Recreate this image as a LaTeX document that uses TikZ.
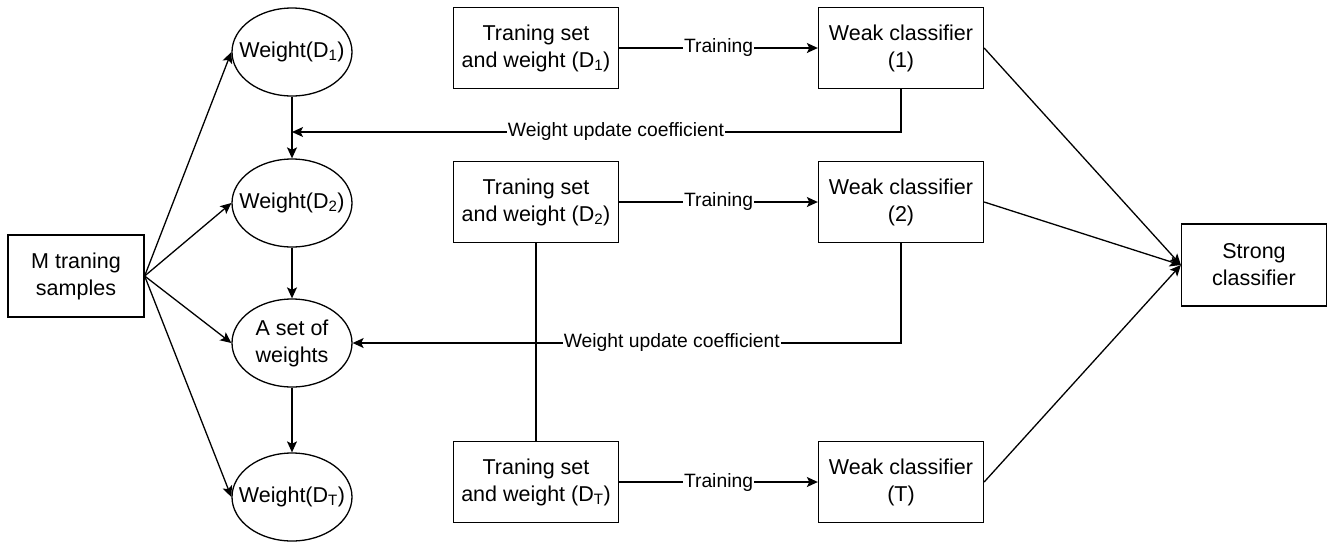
\documentclass[tikz,border=0pt]{standalone}
\usepackage{fontspec}
\setmainfont{Liberation Sans}
\usetikzlibrary{arrows.meta,shapes.geometric}
\begin{document}
\begin{tikzpicture}[x=1pt,y=-1pt,
  every node/.style={font=\fontsize{21.5}{27}\selectfont, align=center, inner sep=0pt},
  every label/.style={font=\fontsize{21.5}{27}\selectfont, align=center, inner sep=0pt},
  boxnode/.style={draw, line width=1.3pt, minimum width=165pt, minimum height=81pt},
  ellnode/.style={draw, ellipse, line width=1.3pt, minimum width=120pt, minimum height=88pt, label={center:#1}},
  conn/.style={line width=1.3pt},
  arr/.style={conn, -{Stealth[length=11pt,width=10pt,inset=2.5pt]}},
  lbl/.style={fill=white, inner sep=1pt, font=\fontsize{19.3}{23}\selectfont}]
\useasboundingbox (0,0) rectangle (1331,542);
% left column
\node[boxnode, minimum width=136pt, minimum height=82pt] (m) at (76,276) {M traning\\samples};
\node[ellnode={Weight(D\textsubscript{1})}] (w1) at (292,52) {};
\node[ellnode={Weight(D\textsubscript{2})}] (w2) at (292,203) {};
\node[ellnode={A set of\\weights}] (ws) at (292,343) {};
\node[ellnode={Weight(D\textsubscript{T})}] (wT) at (292,497) {};
% training sets
\node[boxnode] (ts1) at (536,48) {Traning set\\and weight (D\textsubscript{1})};
\node[boxnode] (ts2) at (536,202) {Traning set\\and weight (D\textsubscript{2})};
\node[boxnode] (tsT) at (536,482) {Traning set\\and weight (D\textsubscript{T})};
% weak classifiers
\node[boxnode] (wc1) at (901,48) {Weak classifier\\(1)};
\node[boxnode] (wc2) at (901,202) {Weak classifier\\(2)};
\node[boxnode] (wcT) at (901,482) {Weak classifier\\(T)};
% strong
\node[boxnode, minimum width=145pt, minimum height=82pt] (sc) at (1254,265) {Strong\\classifier};
\coordinate (u1) at (292,132);
% connectors
\draw[arr] (m.east) -- (w1.west);
\draw[arr] (m.east) -- (w2.west);
\draw[arr] (m.east) -- (ws.west);
\draw[arr] (m.east) -- (wT.west);
\draw[arr] (w1) -- (w2);
\draw[arr] (w2) -- (ws);
\draw[arr] (ws) -- (wT);
\draw[arr] (ts1) -- node[lbl] {Training} (wc1);
\draw[arr] (ts2) -- node[lbl] {Training} (wc2);
\draw[arr] (tsT) -- node[lbl] {Training} (wcT);
\draw[conn] (ts2.south) -- (tsT.north);
\draw[arr] (wc1.south) |- node[lbl, pos=0.734] {Weight update coefficient} (u1);
\draw[arr] (wc2.south) |- node[lbl, pos=0.709] {Weight update coefficient} (ws.east);
\draw[arr] (wc1.east) -- (sc.west);
\draw[arr] (wc2.east) -- (sc.west);
\draw[arr] (wcT.east) -- (sc.west);
\end{tikzpicture}
\end{document}
